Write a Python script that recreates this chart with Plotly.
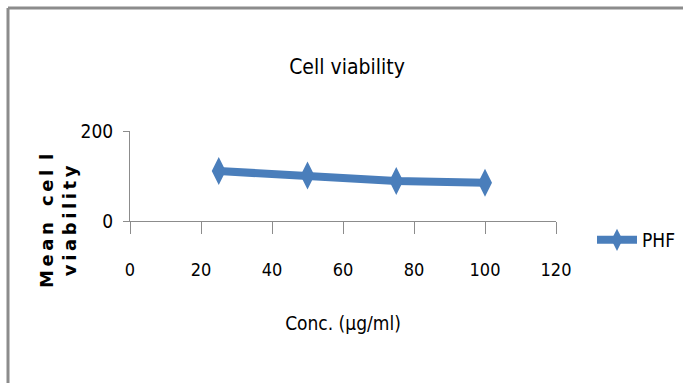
import plotly.graph_objects as go

conc = [25, 50, 75, 100]
viability = [111, 101, 89, 85]
series_name = "PHF"
x_ticks = [0, 20, 40, 60, 80, 100, 120]
y_ticks = [0, 200]

W, H = 683, 383
L, R, T, B = 130, 556, 131, 221
FONT = "DejaVu Sans Condensed, Liberation Sans Narrow, Lato, sans-serif"
BLUE = "#4a7ebb"

def px_x(p):
    return (p - L) / (R - L)

def px_y(p):
    return (B - p) / (B - T)

fig = go.Figure()
fig.add_trace(go.Scatter(
    x=conc, y=viability, name=series_name, mode="lines+markers",
    line=dict(color=BLUE, width=8),
    marker=dict(symbol="diamond-tall", size=20, color=BLUE),
))

fig.update_layout(
    width=W, height=H,
    margin=dict(l=L, r=W - R, t=T, b=H - B, pad=0, autoexpand=False),
    paper_bgcolor="white", plot_bgcolor="white",
    title=dict(text="Cell viability", x=px_x(347), xanchor="center", xref="paper",
               y=1 - 67 / H, yanchor="middle",
               font=dict(family=FONT, size=21, color="black")),
    font=dict(family=FONT, color="black"),
    showlegend=True,
    legend=dict(x=px_x(592), y=px_y(240), xanchor="left", yanchor="middle",
                font=dict(family=FONT, size=19, color="black"),
                bgcolor="rgba(0,0,0,0)", itemwidth=40),
    xaxis=dict(range=[0, 120], tickvals=x_ticks, showgrid=False, zeroline=False,
               showline=True, linecolor="#8c8c8c", linewidth=1,
               ticks="outside", ticklen=12, tickcolor="#8c8c8c",
               ticklabelstandoff=20,
               tickfont=dict(family=FONT, size=18, color="black"),
               title=dict(text="Conc. (µg/ml)", standoff=38,
                          font=dict(family=FONT, size=19, color="black"))),
    yaxis=dict(range=[0, 200], tickvals=y_ticks, showgrid=True, gridcolor="#8c8c8c",
               zeroline=False, showline=True, linecolor="#8c8c8c", linewidth=1,
               ticks="outside", ticklen=6, tickcolor="#8c8c8c",
               ticklabelstandoff=6,
               tickfont=dict(family=FONT, size=19, color="black")),
)

fig.add_annotation(
    text="<b>M\u2009e\u2009a\u2009n\u2009  c\u2009e\u2009l\u2009 l<br>v\u2009i\u2009a\u2009b\u2009i\u2009l\u2009i\u2009t\u2009y</b>",
    textangle=-90,
    xref="paper", yref="paper", x=px_x(58), y=px_y(221),
    xanchor="center", yanchor="middle", showarrow=False,
    font=dict(family="DejaVu Sans", size=18, color="black"),
)

# outer frame (left and top borders)
fig.add_shape(type="line", xref="paper", yref="paper",
              x0=px_x(8), x1=px_x(8), y0=px_y(8), y1=px_y(H + 5),
              line=dict(color="#8c8c8c", width=3))
fig.add_shape(type="line", xref="paper", yref="paper",
              x0=px_x(8), x1=px_x(W + 5), y0=px_y(8), y1=px_y(8),
              line=dict(color="#8c8c8c", width=3))

fig.write_html("out.html")
